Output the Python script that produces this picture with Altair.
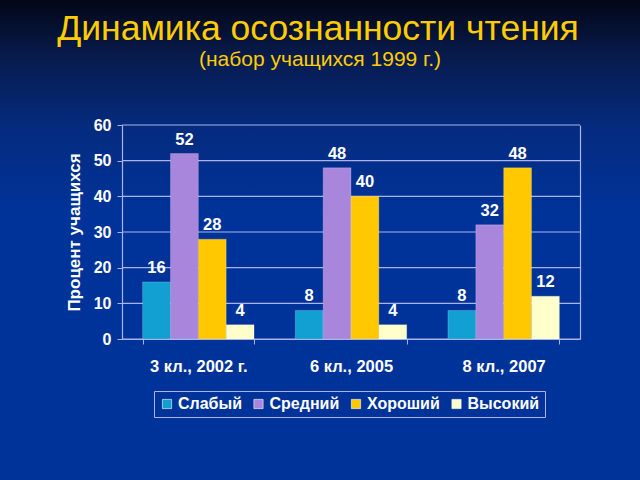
import altair as alt
import pandas as pd

categories = ["3 кл., 2002 г.", "6 кл., 2005", "8 кл., 2007"]
series = ["Слабый", "Средний", "Хороший", "Высокий"]
values = {
    "Слабый": [16, 8, 8],
    "Средний": [52, 48, 32],
    "Хороший": [28, 40, 48],
    "Высокий": [4, 4, 12],
}
colors = ["#129fd2", "#a886dc", "#ffc800", "#ffffcc"]
y_ticks = [0, 10, 20, 30, 40, 50, 60]
title_text = ["Динамика осознанности чтения"]
subtitle_text = ["(набор учащихся 1999 г.)"]
y_title = "Процент учащихся"

rows = []
for s in series:
    for c, v in zip(categories, values[s]):
        rows.append({"cat": c, "series": s, "value": v})
df = pd.DataFrame(rows)

FONT = "Liberation Sans, Arial, sans-serif"
GRID = "#a9b3ee"
W, H = 458, 214
OX, OY = 122, 125

bg = alt.Chart(pd.DataFrame({"a": [0]})).mark_rect(
    color=alt.LinearGradient(
        gradient="linear",
        stops=[
            alt.GradientStop(color="#030716", offset=0),
            alt.GradientStop(color="#071b4e", offset=0.12),
            alt.GradientStop(color="#052b80", offset=0.27),
            alt.GradientStop(color="#00339a", offset=0.45),
            alt.GradientStop(color="#003399", offset=1),
        ],
        x1=0, x2=0, y1=0, y2=1,
    )
).encode(
    x=alt.value(-OX), x2=alt.value(640 - OX),
    y=alt.value(-OY), y2=alt.value(480 - OY),
)

grid = alt.Chart(pd.DataFrame({"t": y_ticks})).mark_rule(
    color=GRID, strokeWidth=1.2
).encode(
    y=alt.Y("t:Q", scale=alt.Scale(domain=[0, 60]),
            axis=alt.Axis(orient="right", labels=False, ticks=False,
                          title=None, grid=False, domain=True,
                          domainColor=GRID, domainWidth=1.2, zindex=1))
)

xenc = alt.X("cat:N", sort=categories,
             scale=alt.Scale(paddingInner=0.27, paddingOuter=0.135),
             axis=alt.Axis(title=None, labelAngle=0, labelColor="white",
                           labelFont=FONT, labelFontSize=16.5, labelFontWeight="bold",
                           domainColor=GRID, domainWidth=1.2, tickColor=GRID,
                           tickSize=5, tickBand="extent", labelPadding=14,
                           grid=False, zindex=1))
yenc = alt.Y("value:Q", scale=alt.Scale(domain=[0, 60]),
             axis=alt.Axis(orient="left", values=y_ticks, title=y_title, titleColor="white",
                           titleFont=FONT, titleFontSize=17, titleFontWeight="bold",
                           titlePadding=10,
                           labelColor="white", labelFont=FONT, labelFontSize=16,
                           labelFontWeight="bold", labelPadding=6,
                           domainColor=GRID, domainWidth=1.2, tickColor=GRID,
                           tickSize=5, grid=False, zindex=1))

bars = alt.Chart(df).mark_bar(stroke="#ffffff", strokeOpacity=0.25, strokeWidth=0.8).encode(
    x=xenc,
    xOffset=alt.XOffset("series:N", sort=series, scale=alt.Scale(paddingInner=0)),
    y=yenc,
    color=alt.Color("series:N", sort=series,
                    scale=alt.Scale(domain=series, range=colors),
                    legend=alt.Legend(
                        orient="none", legendX=32, legendY=266,
                        direction="horizontal", title=None,
                        labelColor="white", labelFont=FONT, labelFontSize=16,
                        labelFontWeight="bold", symbolType="square",
                        symbolSize=85, symbolStrokeWidth=0.6, symbolStrokeColor="#ffffff",
                        columnPadding=8.5, labelOffset=3,
                        strokeColor=GRID, padding=5, cornerRadius=0,
                    )),
)

labels = alt.Chart(df).mark_text(
    baseline="bottom", dy=-6, color="white", font=FONT, fontSize=16.5, fontWeight="bold"
).encode(
    x=alt.X("cat:N", sort=categories),
    xOffset=alt.XOffset("series:N", sort=series),
    y=alt.Y("value:Q", axis=None),
    text=alt.Text("value:Q"),
)

title = alt.Chart(pd.DataFrame({"t": title_text})).mark_text(
    color="#ffcc00", font=FONT, fontSize=35.5, align="center", baseline="alphabetic"
).encode(x=alt.value(318 - OX), y=alt.value(40 - OY), text="t:N")

subtitle = alt.Chart(pd.DataFrame({"t": subtitle_text})).mark_text(
    color="#ffcc00", font=FONT, fontSize=21, align="center", baseline="alphabetic"
).encode(x=alt.value(320 - OX), y=alt.value(66 - OY), text="t:N")

chart = alt.layer(bg, grid, bars, labels, title, subtitle).resolve_axis(
    y="independent"
).properties(
    width=W, height=H, padding=0, background="#003399"
).configure_view(stroke=None)

chart.save("out.html", embed_options={"renderer": "svg", "actions": False})
